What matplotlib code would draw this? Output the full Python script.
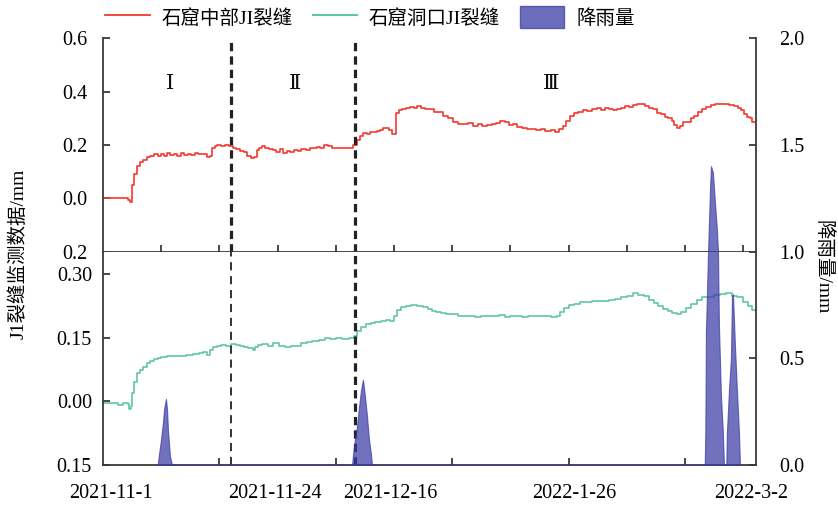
import matplotlib
matplotlib.use("Agg")
import matplotlib.pyplot as plt
from matplotlib.lines import Line2D
from matplotlib.patches import Patch

plt.rcParams['font.family'] = ['Liberation Serif', 'DejaVu Serif', 'Noto Sans CJK SC']
plt.rcParams['axes.unicode_minus'] = False

# ---- data (x: sample index, ticks every 10) ----
red_x = [0, 3, 4.3, 4.6, 4.9, 5.0, 5.4, 5.8, 6.3, 6.9, 7.5, 8.1, 8.8, 9.4, 10, 10.5, 11, 11.6, 12.2, 12.8,
         13.4, 14, 14.6, 15.2, 15.8, 16.4, 17.2, 17.9, 18.4, 18.7, 19.2, 19.6, 20.3, 21, 21.6, 22.3, 22.9,
         23.5, 24.2, 24.8, 25.4, 25.9, 26.4, 26.8, 27.3, 27.8, 28.5, 29.2, 29.8, 30.4, 31, 31.6, 32.2, 32.9,
         33.5, 34.1, 34.8, 35.5, 36.1, 36.8, 37.3, 38, 38.6, 39.3, 40, 40.6, 41.3, 42, 42.6, 43.0, 43.6,
         44.2, 44.7, 45.3, 45.9, 46.4, 47.0, 47.6, 48.1, 48.6, 49.1, 49.7, 50.3, 50.8, 51.4, 52, 52.7, 53.4,
         54.0, 54.7, 55.4, 56.1, 56.8, 57.6, 58.4, 59.2, 60.1, 61, 62, 62.8, 63.6, 64.4, 65.2, 66, 66.8,
         67.6, 68.3, 69, 69.7, 70.4, 71.2, 72.0, 72.8, 73.6, 74.4, 75.2, 76, 76.9, 77.7, 78.4, 79, 79.6,
         80.2, 80.9, 81.6, 82.4, 83.2, 84, 84.8, 85.5, 86.2, 86.9, 87.6, 88.3, 89, 89.7, 90.4, 91.1, 91.8,
         92.5, 93.2, 93.9, 94.5, 95.2, 95.8, 96.5, 97.1, 97.7, 98.2, 98.7, 99.2, 99.7, 100.3, 101, 101.6,
         102.3, 103, 103.7, 104.4, 105.2, 106, 106.8, 107.6, 108.4, 109.1, 109.7, 110.2, 110.7, 111.2,
         111.6, 112.2]
red_y = [0.0, 0.0, -0.005, -0.012, -0.01, 0.05, 0.09, 0.12, 0.135, 0.145, 0.155, 0.16, 0.165, 0.16, 0.168,
         0.16, 0.17, 0.162, 0.168, 0.16, 0.17, 0.163, 0.168, 0.162, 0.17, 0.165, 0.165, 0.155, 0.158, 0.19,
         0.195, 0.2, 0.198, 0.2, 0.195, 0.19, 0.185, 0.178, 0.172, 0.16, 0.152, 0.155, 0.18, 0.19, 0.195,
         0.188, 0.185, 0.18, 0.175, 0.185, 0.17, 0.178, 0.172, 0.18, 0.178, 0.185, 0.183, 0.19, 0.188,
         0.192, 0.19, 0.2, 0.195, 0.19, 0.19, 0.188, 0.187, 0.188, 0.19, 0.2, 0.22, 0.235, 0.245, 0.243,
         0.25, 0.248, 0.252, 0.255, 0.265, 0.262, 0.255, 0.24, 0.32, 0.33, 0.335, 0.338, 0.342, 0.338,
         0.345, 0.34, 0.335, 0.333, 0.325, 0.322, 0.31, 0.3, 0.285, 0.28, 0.277, 0.282, 0.272, 0.277,
         0.27, 0.275, 0.278, 0.283, 0.29, 0.285, 0.275, 0.28, 0.268, 0.265, 0.26, 0.258, 0.256, 0.26,
         0.253, 0.256, 0.25, 0.258, 0.27, 0.29, 0.31, 0.318, 0.322, 0.33, 0.328, 0.335, 0.338, 0.332,
         0.34, 0.335, 0.33, 0.335, 0.34, 0.345, 0.343, 0.348, 0.355, 0.352, 0.345, 0.34, 0.335, 0.32,
         0.315, 0.305, 0.3, 0.29, 0.275, 0.265, 0.27, 0.285, 0.285, 0.3, 0.31, 0.325, 0.335, 0.343, 0.35,
         0.355, 0.352, 0.355, 0.348, 0.345, 0.34, 0.33, 0.315, 0.305, 0.3, 0.285, 0.29]

green_x = [0, 1.5, 2.5, 3.5, 4.3, 4.5, 4.8, 5.0, 5.4, 5.8, 6.3, 6.9, 7.5, 8.1, 8.7, 9.4, 10, 11, 12, 13.2,
           14.3, 15.5, 16.5, 17.2, 17.8, 18.4, 18.9, 19.6, 20.3, 21.2, 22, 22.8, 23.5, 24.2, 25, 25.7, 26.2,
           26.6, 27.4, 28.3, 29.2, 30.2, 31.2, 32.3, 33.2, 34.0, 35, 36, 37.2, 38.2, 39, 40, 41, 42.2, 43.1,
           43.7, 44.4, 45.2, 46, 46.8, 47.8, 48.6, 49.4, 50, 50.6, 51.2, 52, 53, 54, 55, 55.8, 56.5, 57.2,
           58, 59, 60, 61, 62, 63, 64, 65, 66, 67, 68, 69, 70, 71, 72, 73, 74, 75, 76, 77, 78, 78.6, 79.2,
           80, 81, 82, 83, 84, 85, 86, 87, 88, 89, 90, 91, 92, 93, 93.8, 94.6, 95.4, 96.2, 97, 97.8, 98.6,
           99.4, 100.2, 101, 102, 103, 104, 105, 106, 107, 108, 109, 110, 110.8, 111.6, 112.2]
green_y = [-0.005, -0.003, -0.008, -0.003, -0.006, -0.018, -0.012, 0.02, 0.045, 0.068, 0.075, 0.082, 0.09,
           0.095, 0.1, 0.103, 0.105, 0.106, 0.108, 0.108, 0.11, 0.112, 0.115, 0.117, 0.11, 0.12, 0.128,
           0.13, 0.133, 0.13, 0.135, 0.133, 0.13, 0.128, 0.125, 0.12, 0.128, 0.133, 0.135, 0.13, 0.138,
           0.13, 0.128, 0.13, 0.13, 0.137, 0.14, 0.143, 0.145, 0.15, 0.148, 0.15, 0.148, 0.15, 0.155, 0.165,
           0.175, 0.182, 0.185, 0.188, 0.19, 0.192, 0.19, 0.2, 0.215, 0.222, 0.225, 0.227, 0.225, 0.222,
           0.218, 0.212, 0.21, 0.208, 0.205, 0.205, 0.2, 0.2, 0.202, 0.198, 0.2, 0.202, 0.2, 0.203, 0.198,
           0.2, 0.2, 0.198, 0.2, 0.2, 0.2, 0.2, 0.198, 0.2, 0.21, 0.22, 0.228, 0.23, 0.233, 0.235, 0.237,
           0.237, 0.237, 0.24, 0.242, 0.245, 0.248, 0.255, 0.25, 0.248, 0.24, 0.232, 0.225, 0.218, 0.212,
           0.208, 0.206, 0.21, 0.22, 0.23, 0.24, 0.245, 0.245, 0.25, 0.252, 0.255, 0.248, 0.245, 0.235,
           0.225, 0.215, 0.21]

rain_x = [9.4, 9.62, 9.97, 10.31, 10.48, 10.82, 11.0, 11.17, 11.51, 11.86,
          42.8, 42.96, 43.3, 43.64, 43.99, 44.33, 44.67, 45.02, 45.36, 45.7, 46.05, 46.22,
          103.4, 103.5, 103.6, 103.95, 104.3, 104.47, 104.8, 105.15, 105.5, 105.67, 105.84, 106.19, 106.5,
          106.7,
          107.1, 107.2, 107.56, 107.9, 108.08, 108.25, 108.6, 108.93, 109.28, 109.45]
rain_y = [0, 0.05, 0.12, 0.2, 0.26, 0.31, 0.26, 0.16, 0.04, 0,
          0, 0.05, 0.12, 0.18, 0.27, 0.35, 0.40, 0.32, 0.23, 0.12, 0.05, 0,
          0, 0.15, 0.62, 0.98, 1.29, 1.40, 1.37, 1.23, 1.10, 1.0, 0.65, 0.32, 0.16,
          0,
          0, 0.15, 0.35, 0.5, 0.79, 0.80, 0.55, 0.35, 0.15, 0]

stage_x = [22.0, 43.3]
stage_labels = ['Ⅰ', 'Ⅱ', 'Ⅲ']
stage_label_x = [11.5, 33.0, 77.0]

date_labels = ['2021-11-1', '2021-11-24', '2021-12-16', '2022-1-26', '2022-3-2']
date_pos = [1.4, 29.6, 49.3, 80.9, 111.3]

top_ticks = [-0.2, 0.0, 0.2, 0.4, 0.6]
top_tick_labels = ['0.2', '0.0', '0.2', '0.4', '0.6']
bot_ticks = [-0.15, 0.0, 0.15, 0.30]
bot_tick_labels = ['0.15', '0.00', '0.15', '0.30']
rain_ticks = [0.0, 0.5, 1.0, 1.5, 2.0]
rain_tick_labels = ['0.0', '0.5', '1.0', '1.5', '2.0']

RED = '#f23a2e'
GREEN = '#62c79e'
RAIN = '#3b3ba6'
SPINE = '#3a3a3a'
XMAX = 112.2
FS = 14.5
CJK = ['Liberation Serif', 'Noto Sans CJK SC']

fig = plt.figure(figsize=(8.38, 5.07), dpi=100)
L, W = 0.1229, 0.7792
ax_top = fig.add_axes([L, 0.5030, W, 0.4220])
ax_bot = fig.add_axes([L, 0.0828, W, 0.4202])
ax_rain = fig.add_axes([L, 0.0828, W, 0.8422])

for ax in (ax_top, ax_bot, ax_rain):
    ax.set_xlim(0, XMAX)
    for s in ax.spines.values():
        s.set_color(SPINE)
        s.set_linewidth(1.3)

# upper panel: middle crack
ax_top.plot(red_x, red_y, color=RED, lw=1.2, drawstyle='steps-post')
ax_top.set_ylim(-0.2, 0.6)
ax_top.set_yticks(top_ticks, top_tick_labels)
ax_top.set_xticks(range(10, 120, 10))
ax_top.tick_params(axis='x', direction='in', length=5, width=1.3, color=SPINE, labelbottom=False)
ax_top.tick_params(axis='y', direction='in', length=5, width=1.3, color=SPINE, labelsize=FS, pad=11)
ax_top.spines['top'].set_visible(False)
ax_top.spines['right'].set_visible(False)
for xv in stage_x:
    ax_top.plot([xv, xv], [-0.2, 0.585], color='#222222', lw=2.3, dashes=(2.6, 1.6))
for lab, xv in zip(stage_labels, stage_label_x):
    ax_top.text(xv, 0.425, lab, fontsize=15, ha='center', va='center', color='#111111')

# lower panel: entrance crack
ax_bot.plot(green_x, green_y, color=GREEN, lw=1.2, drawstyle='steps-post')
ax_bot.set_ylim(-0.15, 0.352)
ax_bot.set_yticks(bot_ticks, bot_tick_labels)
ax_bot.set_xticks(range(20, 120, 20))
ax_bot.set_xticks(date_pos, date_labels, minor=True)
ax_bot.tick_params(axis='x', which='major', direction='in', length=5, width=1.3, color=SPINE,
                   labelbottom=False)
ax_bot.tick_params(axis='x', which='minor', length=0, labelsize=FS, pad=14)
ax_bot.tick_params(axis='y', direction='in', length=5, width=1.3, color=SPINE, labelsize=FS, pad=8)
ax_bot.spines['top'].set_visible(False)
ax_bot.spines['right'].set_visible(False)
ax_bot.plot([stage_x[0]] * 2, [-0.15, 0.352], color='#222222', lw=1.3, dashes=(4.5, 3.2))
ax_bot.plot([stage_x[1]] * 2, [-0.15, 0.352], color='#222222', lw=2.3, dashes=(2.6, 1.6))

# rainfall on the right axis, spanning both panels
ax_rain.patch.set_visible(False)
ax_rain.fill_between(rain_x, rain_y, 0, color=RAIN, alpha=0.72, lw=0.8, edgecolor=RAIN)
ax_rain.set_ylim(0, 2.0)
ax_rain.yaxis.tick_right()
ax_rain.set_yticks(rain_ticks, rain_tick_labels)
ax_rain.set_xticks([])
ax_rain.tick_params(axis='y', direction='in', length=5, width=1.3, color=SPINE, labelsize=FS, pad=17)
for side in ('top', 'left', 'bottom'):
    ax_rain.spines[side].set_visible(False)

fig.text(0.022, 0.5, 'J1裂缝监测数据/mm', rotation=90, ha='center', va='center', fontsize=14,
         family=CJK)
fig.text(0.982, 0.473, '降雨量/mm', rotation=-90, ha='center', va='center', fontsize=14,
         family=CJK)

handles = [Line2D([], [], color=RED, lw=1.3),
           Line2D([], [], color=GREEN, lw=1.5),
           Patch(facecolor=RAIN, alpha=0.75, edgecolor=RAIN)]
labels = ['石窟中部JI裂缝', '石窟洞口JI裂缝', '降雨量']
fig.legend(handles, labels, loc='center', bbox_to_anchor=(0.4415, 0.966), ncol=3, frameon=False,
           handlelength=2.3, handleheight=1.4, handletextpad=0.6, columnspacing=1.0,
           prop={'family': CJK, 'size': 14})

fig.savefig('out.png', dpi=100)
